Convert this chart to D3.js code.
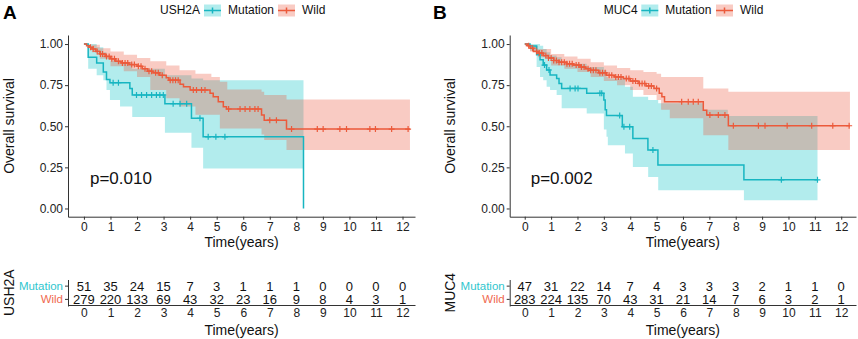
<!DOCTYPE html>
<html>
<head>
<meta charset="utf-8">
<script src="https://cdn.jsdelivr.net/npm/d3@7"></script>
<style>
  body { margin: 0; background: #fff; }
  svg { display: block; font-family: "Liberation Sans", Arial, sans-serif; }
</style>
</head>
<body>
<div id="chart"></div>
<script>
// Kaplan-Meier curves, two panels (USH2A / MUC4), with risk tables

const width = 858, height = 339;

const yearTicks = [0, 1, 2, 3, 4, 5, 6, 7, 8, 9, 10, 11, 12];
const survTicks = [0, 0.25, 0.5, 0.75, 1];
const groups = ["Mutation", "Wild"];

// ---- panel A : USH2A ----
// steps: [time, survival]
const ush2aMutSteps = [[0,1],[0.16,0.92],[0.48,0.885],[0.73,0.83],[0.85,0.785],[0.98,0.765],[1.73,0.73],[1.82,0.69],[3.05,0.637],[4.05,0.548],[4.49,0.436],[8.27,0]];
const ush2aMutBand = [[0,1,1],[0.16,0.85,1],[0.48,0.81,0.98],[0.73,0.78,0.95],[0.85,0.72,0.92],[0.98,0.66,0.9],[1.36,0.62,0.89],[1.82,0.557,0.85],[3.05,0.46,0.81],[4.05,0.37,0.79],[4.49,0.243,0.78]];
const ush2aMutCensor = [1.1, 1.3, 1.98, 2.17, 2.36, 2.55, 2.73, 2.86, 2.99, 3.36, 3.62, 3.87, 4.37, 4.68, 4.97, 5.31];
const ush2aMutEnd = 8.27;

const ush2aWildSteps = [[0,1],[0.1,0.99],[0.2,0.98],[0.3,0.97],[0.45,0.955],[0.6,0.94],[0.8,0.925],[1.0,0.91],[1.2,0.895],[1.4,0.885],[1.7,0.875],[2.0,0.865],[2.2,0.85],[2.4,0.835],[2.6,0.825],[2.85,0.81],[3.1,0.795],[3.2,0.78],[3.62,0.755],[3.75,0.74],[4.0,0.72],[4.75,0.70],[4.87,0.68],[5.06,0.649],[5.25,0.619],[5.37,0.605],[6.69,0.568],[6.79,0.537],[7.63,0.483]];
const ush2aWildBand = [[0,1,1],[0.3,0.95,0.995],[0.6,0.91,0.975],[1.0,0.865,0.955],[1.5,0.835,0.935],[2.0,0.80,0.915],[2.5,0.72,0.895],[3.1,0.67,0.87],[3.6,0.62,0.84],[4.2,0.57,0.82],[4.8,0.57,0.80],[5.12,0.487,0.77],[5.4,0.487,0.724],[6.69,0.45,0.71],[6.79,0.416,0.69],[7.63,0.355,0.663]];
const ush2aWildCensor = [0.25, 0.35, 0.5, 0.62, 0.7, 0.85, 0.95, 1.05, 1.15, 1.3, 1.45, 1.55, 1.65, 1.8, 1.9, 2.05, 2.15, 2.3, 2.45, 2.55, 2.7, 2.8, 2.95, 3.25, 3.35, 3.45, 3.55, 4.12, 4.24, 4.43, 4.56, 5.45, 5.88, 6.07, 6.25, 6.44, 6.56, 7.0, 7.25, 7.82, 8.79, 9.01, 9.64, 9.89, 10.77, 10.98, 11.59, 12.21];
const ush2aWildEnd = 12.28;

const ush2aRiskMut = [51, 35, 24, 15, 7, 3, 1, 1, 1, 0, 0, 0, 0];
const ush2aRiskWild = [279, 220, 133, 69, 43, 32, 23, 16, 9, 8, 4, 3, 1];

// ---- panel B : MUC4 ----
const muc4MutSteps = [[0,1],[0.2,0.988],[0.45,0.935],[0.58,0.905],[0.7,0.872],[0.83,0.842],[0.96,0.811],[1.21,0.791],[1.3,0.76],[1.4,0.73],[2.35,0.70],[3.0,0.66],[3.05,0.60],[3.1,0.565],[3.7,0.497],[4.1,0.426],[4.67,0.355],[5.05,0.264],[8.31,0.174]];
const muc4MutBand = [[0,1,1],[0.2,0.96,1],[0.45,0.86,1],[0.58,0.80,0.99],[0.7,0.78,0.97],[0.83,0.74,0.95],[0.96,0.72,0.93],[1.21,0.69,0.92],[1.4,0.61,0.88],[2.35,0.578,0.86],[3.0,0.48,0.84],[3.1,0.436,0.80],[3.15,0.385,0.79],[3.8,0.335,0.74],[4.1,0.253,0.68],[4.68,0.192,0.66],[5.06,0.111,0.64],[6.77,0.111,0.60],[7.7,0.111,0.562],[8.31,0.05,0.562]];
const muc4MutCensor = [0.75, 0.92, 1.72, 1.91, 2.02, 2.85, 2.92, 3.6, 3.76, 3.98, 4.86, 9.73, 11.1];
const muc4MutEnd = 11.1;

const muc4WildSteps = [[0,1],[0.1,0.99],[0.2,0.975],[0.33,0.955],[0.5,0.945],[0.7,0.93],[0.9,0.915],[1.1,0.9],[1.3,0.89],[1.6,0.88],[1.84,0.872],[2.1,0.86],[2.3,0.85],[2.5,0.84],[2.8,0.825],[3.1,0.81],[3.4,0.80],[3.74,0.79],[4.0,0.775],[4.3,0.76],[4.6,0.745],[4.9,0.73],[5.1,0.70],[5.2,0.68],[5.3,0.649],[6.77,0.598],[6.9,0.568],[7.72,0.503]];
const muc4WildBand = [[0,1,1],[0.2,0.955,0.99],[0.5,0.92,0.97],[1.0,0.87,0.94],[1.5,0.85,0.925],[2.0,0.83,0.91],[2.5,0.80,0.89],[3.0,0.775,0.87],[3.5,0.75,0.855],[4.0,0.72,0.84],[4.5,0.69,0.83],[5.0,0.66,0.82],[5.17,0.60,0.80],[5.5,0.548,0.80],[6.77,0.446,0.73],[7.72,0.355,0.71]];
const muc4WildCensor = [0.15, 0.3, 0.45, 0.55, 0.65, 0.8, 0.9, 1.0, 1.1, 1.2, 1.3, 1.4, 1.5, 1.6, 1.7, 1.8, 1.95, 2.05, 2.15, 2.25, 2.4, 2.5, 2.6, 2.7, 2.85, 2.95, 3.05, 3.2, 3.3, 3.45, 3.55, 3.65, 3.85, 3.95, 4.1, 4.2, 4.35, 4.45, 4.55, 4.7, 4.8, 5.0, 5.95, 6.2, 6.39, 6.58, 7.02, 7.34, 7.59, 7.91, 8.86, 9.11, 9.95, 10.88, 11.68, 12.3];
const muc4WildEnd = 12.33;

const muc4RiskMut = [47, 31, 22, 14, 7, 4, 3, 3, 3, 2, 1, 1, 0];
const muc4RiskWild = [283, 224, 135, 70, 43, 31, 21, 14, 7, 6, 3, 2, 1];

const mutLine = "#17B5C1", wildLine = "#EC5A3B";
const mutFill = "#00BFC4", wildFill = "#EB5237";
const mutText = "#2FC6CE", wildText = "#F06A50";

const svg = d3.select("#chart")
  .append("svg")
  .attr("width", width)
  .attr("height", height);

function survAt(steps, t) {
  let s = steps[0][1];
  for (const d of steps) { if (d[0] <= t) s = d[1]; }
  return s;
}

function drawPanel(p) {
  const x = d3.scaleLinear().domain(p.xDomain).range([p.left, p.right]);
  const y = d3.scaleLinear().domain([-0.05, 1.055]).range([216.7, 35]);
  const g = svg.append("g");

  const area = d3.area().curve(d3.curveStepAfter)
    .x(d => x(d[0])).y0(d => y(d[1])).y1(d => y(d[2]));
  const line = d3.line().curve(d3.curveStepAfter)
    .x(d => x(d[0])).y(d => y(d[1]));
  const withEnd = (arr, t) => arr.concat([[t].concat(arr[arr.length - 1].slice(1))]);

  const series = [
    { steps: p.mut.steps, band: p.mut.band, censor: p.mut.censor, end: p.mut.end, line: mutLine, fill: mutFill },
    { steps: p.wild.steps, band: p.wild.band, censor: p.wild.censor, end: p.wild.end, line: wildLine, fill: wildFill }
  ];

  // confidence bands
  series.forEach(s => {
    g.append("path")
      .attr("d", area(withEnd(s.band, s.end)))
      .attr("fill", s.fill)
      .attr("fill-opacity", 0.3);
  });

  // curves + censor marks
  series.forEach(s => {
    g.append("path")
      .attr("d", line(withEnd(s.steps, s.end)))
      .attr("fill", "none")
      .attr("stroke", s.line)
      .attr("stroke-width", 1.5);

    g.append("g").selectAll("path")
      .data(s.censor)
      .join("path")
      .attr("d", t => {
        const cx = x(t), cy = y(survAt(s.steps, t));
        return `M${cx - 3},${cy}H${cx + 3}M${cx},${cy - 3}V${cy + 3}`;
      })
      .attr("stroke", s.line)
      .attr("stroke-width", 1.2);
  });

  // axes
  const xAxis = g.append("g")
    .attr("transform", `translate(0,${y.range()[0]})`)
    .call(d3.axisBottom(x).tickValues(yearTicks).tickSize(3).tickPadding(3).tickSizeOuter(0));
  const yAxis = g.append("g")
    .attr("transform", `translate(${p.left},0)`)
    .call(d3.axisLeft(y).tickValues(survTicks).tickFormat(d3.format(".2f")).tickSize(3).tickPadding(2).tickSizeOuter(0));
  [xAxis, yAxis].forEach(a => {
    a.selectAll("path, line").attr("stroke", "#333").attr("stroke-width", 1);
    a.selectAll("text").attr("font-size", 12).attr("fill", "#222");
  });

  g.append("text")
    .attr("x", (p.left + p.right) / 2).attr("y", 246.5)
    .attr("text-anchor", "middle").attr("font-size", 14).attr("fill", "#111")
    .text("Time(years)");
  g.append("text")
    .attr("transform", `translate(${p.ylabX},126) rotate(-90)`)
    .attr("text-anchor", "middle").attr("font-size", 14).attr("fill", "#111")
    .text("Overall survival");

  g.append("text")
    .attr("x", x(0) + 6).attr("y", 183.5)
    .attr("font-size", 17).attr("fill", "#111")
    .text(p.pval);

  // panel letter
  g.append("text")
    .attr("x", p.letterX).attr("y", 18.5)
    .attr("font-size", 19).attr("font-weight", "bold").attr("fill", "#000")
    .text(p.letter);

  // legend
  const leg = g.append("g").attr("font-size", 12).attr("fill", "#111");
  leg.append("text").attr("x", p.legend.title).attr("y", 14.2).text(p.gene);
  [[p.legend.key1, mutLine, mutFill, "Mutation"], [p.legend.key2, wildLine, wildFill, "Wild"]].forEach(([kx, lc, fc, lab]) => {
    leg.append("rect").attr("x", kx).attr("y", 4.5).attr("width", 17).attr("height", 12)
      .attr("fill", fc).attr("fill-opacity", 0.3);
    leg.append("path").attr("d", `M${kx},10.5H${kx + 17}M${kx + 8.5},7.5V13.5`)
      .attr("stroke", lc).attr("stroke-width", 1.5);
    leg.append("text").attr("x", kx + 24).attr("y", 14.2).text(lab);
  });

  // risk table
  const ry = d3.scaleBand().domain(groups).range([279.5, 306]);
  const rows = [["Mutation", p.mut.risk], ["Wild", p.wild.risk]];
  rows.forEach(([grp, vals]) => {
    g.append("g").selectAll("text")
      .data(vals)
      .join("text")
      .attr("x", (d, i) => x(yearTicks[i]))
      .attr("y", ry(grp) + ry.bandwidth() / 2 + 4.6)
      .attr("text-anchor", "middle")
      .attr("font-size", 13)
      .attr("fill", "#111")
      .text(d => d);
  });

  const tX = g.append("g")
    .attr("transform", "translate(0,305)")
    .call(d3.axisBottom(x).tickValues(yearTicks).tickSize(0).tickPadding(3).tickSizeOuter(0));
  const tY = g.append("g")
    .attr("transform", `translate(${p.left},0)`)
    .call(d3.axisLeft(ry).tickSize(3).tickPadding(2).tickSizeOuter(0));
  [tX, tY].forEach(a => {
    a.selectAll("path, line").attr("stroke", "#333").attr("stroke-width", 1);
    a.selectAll("text").attr("font-size", 12).attr("fill", "#222");
  });
  tY.selectAll("text").attr("font-size", 11.5).attr("fill", d => d === "Mutation" ? mutText : wildText);

  g.append("text")
    .attr("x", (p.left + p.right) / 2).attr("y", 335)
    .attr("text-anchor", "middle").attr("font-size", 14).attr("fill", "#111")
    .text("Time(years)");
  g.append("text")
    .attr("transform", `translate(${p.ylabX + 0.5},292.7) rotate(-90)`)
    .attr("text-anchor", "middle").attr("font-size", 14).attr("fill", "#111")
    .text(p.gene);
}

drawPanel({
  letter: "A", letterX: 3, gene: "USH2A", pval: "p=0.010",
  xDomain: [-0.6, 12.47], left: 68, right: 415, ylabX: 13.5,
  legend: { title: 160, key1: 204, key2: 278 },
  mut: { steps: ush2aMutSteps, band: ush2aMutBand, censor: ush2aMutCensor, end: ush2aMutEnd, risk: ush2aRiskMut },
  wild: { steps: ush2aWildSteps, band: ush2aWildBand, censor: ush2aWildCensor, end: ush2aWildEnd, risk: ush2aRiskWild }
});

drawPanel({
  letter: "B", letterX: 433, gene: "MUC4", pval: "p=0.002",
  xDomain: [-0.57, 12.56], left: 509.7, right: 856, ylabX: 454.5,
  legend: { title: 603.7, key1: 641.3, key2: 716 },
  mut: { steps: muc4MutSteps, band: muc4MutBand, censor: muc4MutCensor, end: muc4MutEnd, risk: muc4RiskMut },
  wild: { steps: muc4WildSteps, band: muc4WildBand, censor: muc4WildCensor, end: muc4WildEnd, risk: muc4RiskWild }
});
</script>
</body>
</html>
